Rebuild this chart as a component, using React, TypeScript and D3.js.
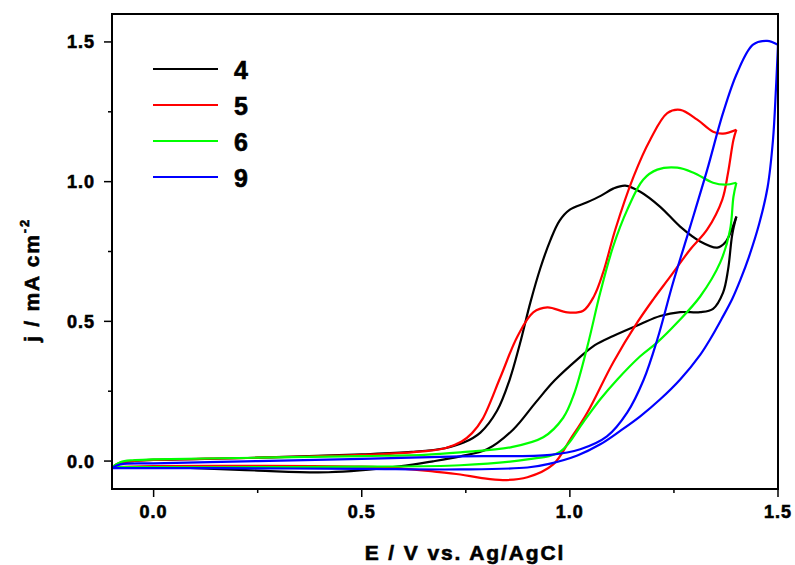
import React from "react";
import * as d3 from "d3";

// potential (V vs Ag/AgCl) and current density (mA cm-2)
const black4Fwd: [number, number][] = [
  [-0.1, -0.022], [-0.08, -0.006], [-0.05, 0.0], [0, 0.004], [0.25, 0.012], [0.5, 0.024],
  [0.62, 0.033], [0.7, 0.046], [0.745, 0.066], [0.785, 0.102], [0.825, 0.18], [0.855, 0.29],
  [0.88, 0.42], [0.905, 0.567], [0.929, 0.69], [0.953, 0.79], [0.975, 0.86], [1.0, 0.9],
  [1.04, 0.925], [1.075, 0.95], [1.104, 0.975], [1.133, 0.986], [1.169, 0.964], [1.217, 0.91],
  [1.265, 0.839], [1.313, 0.786], [1.354, 0.764], [1.373, 0.782], [1.4, 0.875],
];
const black4Rev: [number, number][] = [
  [1.4, 0.875], [1.39, 0.81], [1.38, 0.685], [1.368, 0.603], [1.344, 0.545], [1.313, 0.533],
  [1.265, 0.533], [1.217, 0.519], [1.169, 0.49], [1.104, 0.448], [1.06, 0.415], [1.018, 0.364],
  [0.963, 0.288], [0.918, 0.21], [0.864, 0.113], [0.801, 0.042], [0.737, 0.017], [0.671, -0.001],
  [0.59, -0.019], [0.42, -0.04], [0.25, -0.034], [0.1, -0.025], [0, -0.021], [-0.1, -0.022],
];

const red5Fwd: [number, number][] = [
  [-0.1, -0.022], [-0.08, -0.006], [-0.05, 0.0], [0, 0.004], [0.25, 0.012], [0.5, 0.022],
  [0.62, 0.031], [0.7, 0.046], [0.74, 0.07], [0.765, 0.1], [0.79, 0.15], [0.833, 0.3],
  [0.874, 0.446], [0.912, 0.532], [0.946, 0.55], [0.994, 0.532], [1.032, 0.538], [1.058, 0.59],
  [1.08, 0.675], [1.109, 0.828], [1.153, 1.018], [1.193, 1.15], [1.234, 1.245], [1.265, 1.257],
  [1.306, 1.222], [1.344, 1.179], [1.368, 1.172], [1.4, 1.186],
];
const red5Rev: [number, number][] = [
  [1.4, 1.186], [1.393, 1.15], [1.38, 1.032], [1.366, 0.935], [1.33, 0.829], [1.289, 0.757],
  [1.241, 0.66], [1.2, 0.578], [1.162, 0.496], [1.104, 0.353], [1.042, 0.174], [1.001, 0.078],
  [0.96, -0.012], [0.898, -0.058], [0.84, -0.068], [0.785, -0.06], [0.737, -0.048],
  [0.671, -0.037], [0.592, -0.026], [0.5, -0.02], [0.25, -0.017], [0, -0.018], [-0.1, -0.022],
];

const green6Fwd: [number, number][] = [
  [-0.1, -0.022], [-0.08, -0.004], [-0.05, 0.003], [0, 0.006], [0.25, 0.012], [0.5, 0.018],
  [0.65, 0.022], [0.737, 0.031], [0.857, 0.049], [0.936, 0.085], [0.984, 0.155], [1.01, 0.24],
  [1.042, 0.41], [1.073, 0.603], [1.104, 0.768], [1.138, 0.9], [1.176, 1.007], [1.21, 1.043],
  [1.258, 1.05], [1.297, 1.032], [1.344, 0.996], [1.373, 0.989], [1.4, 0.996],
];
const green6Rev: [number, number][] = [
  [1.4, 0.996], [1.393, 0.946], [1.385, 0.829], [1.361, 0.71], [1.313, 0.589], [1.258, 0.496],
  [1.21, 0.425], [1.169, 0.375], [1.114, 0.292], [1.073, 0.221], [1.032, 0.139], [0.977, 0.034],
  [0.898, 0.006], [0.737, -0.015], [0.5, -0.02], [0.25, -0.022], [0, -0.022], [-0.1, -0.022],
];

const blue9Fwd: [number, number][] = [
  [-0.1, -0.025], [-0.08, -0.012], [0, -0.008], [0.25, 0.0], [0.5, 0.008], [0.737, 0.017],
  [0.953, 0.022], [1.025, 0.042], [1.089, 0.088], [1.138, 0.174], [1.177, 0.29], [1.21, 0.435],
  [1.248, 0.639], [1.289, 0.839], [1.33, 1.043], [1.368, 1.246], [1.402, 1.39], [1.44, 1.49],
  [1.474, 1.504], [1.5, 1.49],
];
const blue9Rev: [number, number][] = [
  [1.5, 1.49], [1.499, 1.455], [1.495, 1.33], [1.488, 1.15], [1.475, 0.98], [1.455, 0.85],
  [1.43, 0.73], [1.41, 0.65], [1.39, 0.58], [1.365, 0.51], [1.337, 0.436], [1.313, 0.38],
  [1.265, 0.292], [1.217, 0.221], [1.169, 0.16], [1.121, 0.108], [1.073, 0.06], [1.018, 0.02],
  [0.95, -0.01], [0.898, -0.023], [0.737, -0.03], [0.5, -0.028], [0.25, -0.026], [0, -0.025],
  [-0.1, -0.025],
];

const seriesNames = ["4", "5", "6", "9"];
const seriesColors = ["#000000", "#ff0000", "#00ff00", "#0000ff"];
const seriesLoops = [
  [black4Fwd, black4Rev],
  [red5Fwd, red5Rev],
  [green6Fwd, green6Rev],
  [blue9Fwd, blue9Rev],
];

const xMajorTicks = [0, 0.5, 1.0, 1.5];
const xMinorTicks = [0.25, 0.75, 1.25];
const yMajorTicks = [0, 0.5, 1.0, 1.5];
const yMinorTicks = [0.25, 0.75, 1.25];

const width = 795;
const height = 565;
const margin = { top: 14, right: 17, bottom: 76, left: 112 };

const font = "Arial, 'Liberation Sans', sans-serif";

export default function App() {
  const x = d3
    .scaleLinear()
    .domain([-0.1, 1.5])
    .range([margin.left, width - margin.right]);
  const y = d3
    .scaleLinear()
    .domain([-0.1, 1.6])
    .range([height - margin.bottom, margin.top]);

  const line = d3
    .line<[number, number]>()
    .x((d) => x(d[0]))
    .y((d) => y(d[1]))
    .curve(d3.curveCatmullRom.alpha(0.5));

  const x0 = margin.left;
  const x1 = width - margin.right;
  const y0 = height - margin.bottom;
  const y1 = margin.top;

  const textStyle = {
    fontFamily: font,
    fontWeight: "bold" as const,
    stroke: "#000",
    strokeWidth: 0.6,
  };

  return (
    <svg
      width={width}
      height={height}
      style={{ position: "absolute", left: 0, top: 0, background: "#fff" }}
    >
      <defs>
        <clipPath id="plot">
          <rect x={x0} y={y1} width={x1 - x0} height={y0 - y1} />
        </clipPath>
      </defs>

      {/* curves */}
      <g clipPath="url(#plot)" fill="none" strokeWidth={2.2} strokeLinejoin="round">
        {seriesLoops.map((loop, i) =>
          loop.map((branch, k) => (
            <path key={i + "-" + k} d={line(branch) || ""} stroke={seriesColors[i]} />
          ))
        )}
      </g>

      {/* frame */}
      <rect x={x0} y={y1} width={x1 - x0} height={y0 - y1} fill="none" stroke="#000" strokeWidth={2} />

      {/* x ticks */}
      {xMajorTicks.map((t) => (
        <g key={"xt" + t}>
          <line x1={x(t)} x2={x(t)} y1={y0} y2={y0 + 8} stroke="#000" strokeWidth={1.5} />
          <text x={x(t)} y={y0 + 29} textAnchor="middle" fontSize={18} letterSpacing={1} style={textStyle}>
            {t.toFixed(1)}
          </text>
        </g>
      ))}
      {xMinorTicks.map((t) => (
        <line key={"xm" + t} x1={x(t)} x2={x(t)} y1={y0} y2={y0 + 4} stroke="#000" strokeWidth={1.5} />
      ))}

      {/* y ticks */}
      {yMajorTicks.map((t) => (
        <g key={"yt" + t}>
          <line x1={x0 - 8} x2={x0} y1={y(t)} y2={y(t)} stroke="#000" strokeWidth={1.5} />
          <text x={95} y={y(t) + 6.5} textAnchor="end" fontSize={18} letterSpacing={1} style={textStyle}>
            {t.toFixed(1)}
          </text>
        </g>
      ))}
      {yMinorTicks.map((t) => (
        <line key={"ym" + t} x1={x0 - 4} x2={x0} y1={y(t)} y2={y(t)} stroke="#000" strokeWidth={1.5} />
      ))}

      {/* axis titles */}
      <text x={465} y={560} textAnchor="middle" fontSize={21} letterSpacing={1.9} style={textStyle}>
        E / V vs. Ag/AgCl
      </text>
      <text transform="translate(39,342) rotate(-90)" fontSize={21} letterSpacing={1.8} style={textStyle}>
        j / mA cm
        <tspan fontSize={13} dy={-10}>
          -2
        </tspan>
      </text>

      {/* legend */}
      {seriesNames.map((name, i) => (
        <g key={"lg" + name} transform={`translate(0, ${69 + i * 36})`}>
          <line x1={153} x2={218} y1={0} y2={0} stroke={seriesColors[i]} strokeWidth={2.2} />
          <text x={234} y={9.5} fontSize={25} letterSpacing={1} style={textStyle}>
            {name}
          </text>
        </g>
      ))}
    </svg>
  );
}
